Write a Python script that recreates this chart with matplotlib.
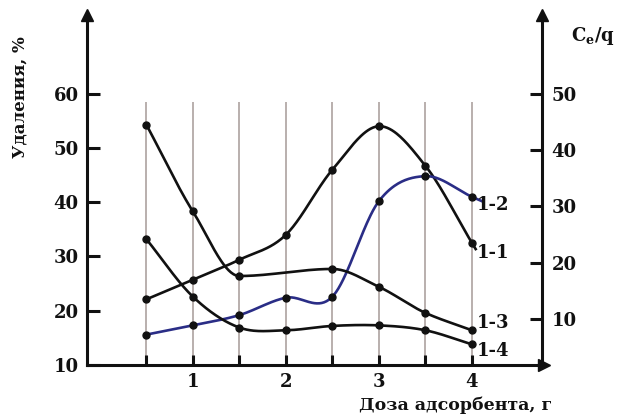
import numpy as np
import matplotlib
matplotlib.use("Agg")
import matplotlib.pyplot as plt

# доза адсорбента, г
dose = [0.5, 1.0, 1.5, 2.0, 2.5, 3.0, 3.5, 4.0]
dose_13 = [0.5, 1.0, 1.5, 2.5, 3.0, 3.5, 4.0]

# значения (в единицах левой оси)
curve_11 = [22.1, 25.7, 29.4, 34.0, 46.0, 54.0, 46.7, 32.5]
curve_12 = [15.6, 17.3, 19.2, 22.4, 22.6, 40.2, 44.8, 41.0]
curve_13 = [54.3, 38.3, 26.4, 27.7, 24.4, 19.6, 16.4]
curve_14 = [33.2, 22.6, 16.9, 16.4, 17.2, 17.3, 16.4, 13.8]

left_ticks = [10, 20, 30, 40, 50, 60]
right_ticks = [10, 20, 30, 40, 50]
x_ticks = [1, 2, 3, 4]

plt.rcParams['font.family'] = 'DejaVu Serif'
plt.rcParams['mathtext.fontset'] = 'dejavuserif'

black = '#111111'
blue = '#2a2d86'
gridc = '#b3a9a7'


def smooth(x, y, tail=0.0, pchip=False, n=40):
    # кубический эрмитов сплайн через точки
    x = np.asarray(x, float)
    y = np.asarray(y, float)
    d = np.diff(y) / np.diff(x)
    m = np.zeros_like(y)
    m[1:-1] = (y[2:] - y[:-2]) / (x[2:] - x[:-2])
    m[0] = d[0]
    m[-1] = d[-1]
    if pchip:
        for i in range(1, len(y) - 1):
            if d[i-1] * d[i] <= 0:
                m[i] = 0.0
            else:
                m[i] = 2.0 / (1.0/d[i-1] + 1.0/d[i])
    xs, ys = [], []
    for i in range(len(x) - 1):
        h = x[i + 1] - x[i]
        t = np.linspace(0, 1, n)
        h00 = 2*t**3 - 3*t**2 + 1
        h10 = t**3 - 2*t**2 + t
        h01 = -2*t**3 + 3*t**2
        h11 = t**3 - t**2
        xs.append(x[i] + t*h)
        ys.append(h00*y[i] + h10*h*m[i] + h01*y[i+1] + h11*h*m[i+1])
    xs = np.concatenate(xs)
    ys = np.concatenate(ys)
    if tail > 0:
        xs = np.append(xs, x[-1] + tail)
        ys = np.append(ys, y[-1] + m[-1]*tail)
    return xs, ys


fig = plt.figure(figsize=(6.19, 4.16), dpi=100)
ax = fig.add_axes([87/619, 1 - 365/416, (542 - 87)/619, (365 - 15)/416])
ax2 = ax.twinx()

ax.set_xlim(-0.138, 4.753)
ax.set_ylim(10.1, 74.5)
ax2.set_ylim(1.8, 64.0)

# вертикальные линии сетки
ax.vlines(np.arange(0.5, 4.01, 0.5), 10.1, 58.5, color=gridc, lw=1.3, zorder=0)

for xx, yy, col, tail, pc in [(dose, curve_11, black, 0.04, False),
                              (dose, curve_12, blue, 0.11, False),
                              (dose_13, curve_13, black, 0, True),
                              (dose, curve_14, black, 0, False)]:
    sx, sy = smooth(xx, yy, tail, pc)
    ax.plot(sx, sy, color=col, lw=1.9, zorder=3)
    ax.plot(xx, yy, 'o', color=black, ms=5, zorder=4)

lab_kw = dict(fontsize=13, fontweight='bold', ha='left', va='center', color=black)
ax.text(4.054, 39.5, '1-2', **lab_kw)
ax.text(4.054, 30.7, '1-1', **lab_kw)
ax.text(4.054, 17.8, '1-3', **lab_kw)
ax.text(4.054, 12.55, '1-4', **lab_kw)

for a in (ax, ax2):
    a.spines['top'].set_visible(False)
    for s in a.spines.values():
        s.set_linewidth(2.2)
        s.set_color(black)
ax.spines['right'].set_visible(False)
ax2.spines['left'].set_visible(False)
ax2.spines['bottom'].set_visible(False)

ax.set_xticks(x_ticks)
ax.set_xticks([0.5, 1.5, 2.5, 3.5], minor=True)
ax.set_yticks(left_ticks)
ax2.set_yticks(right_ticks)
ax.tick_params(axis='x', which='both', direction='in', length=7, width=2.2,
               pad=6, labelsize=13, colors=black)
ax.tick_params(axis='y', direction='in', length=9.5, width=2.2, pad=6,
               labelsize=13, colors=black)
ax2.tick_params(axis='y', direction='in', length=9, width=2.2, pad=7,
                labelsize=13, colors=black)
for lbl in ax.get_xticklabels() + ax.get_yticklabels() + ax2.get_yticklabels():
    lbl.set_fontweight('bold')

# стрелки осей
ax.plot([0], [1], marker='^', ms=8, color=black, transform=ax.transAxes, clip_on=False)
ax.plot([1], [1], marker='^', ms=8, color=black, transform=ax.transAxes, clip_on=False)
ax.plot([1.005], [0], marker='>', ms=8, color=black, transform=ax.transAxes, clip_on=False)

fig.text(20/619, 1 - 97/416, 'Удаления, %', rotation=90, fontsize=12,
         fontweight='bold', ha='center', va='center', color=black)
fig.text(456/619, 1 - 405/416, 'Доза адсорбента, г', fontsize=12.5,
         fontweight='bold', ha='center', va='center', color=black)
fig.text(593/619, 1 - 36/416, r'C$_\mathbf{e}$/q', fontsize=13,
         fontweight='bold', ha='center', va='center', color=black)

fig.savefig('out.png', dpi=100)
